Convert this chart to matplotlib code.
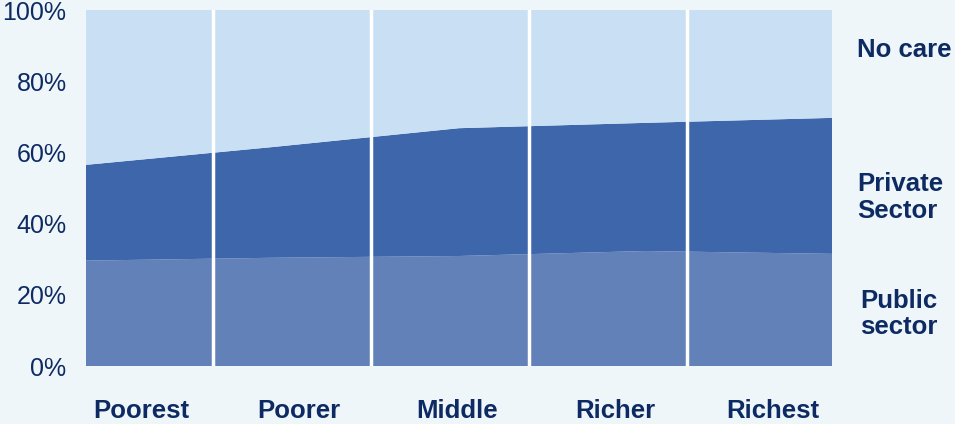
import numpy as np
import matplotlib.pyplot as plt

# -- data (share of children, %)
quintiles = ["Poorest", "Poorer", "Middle", "Richer", "Richest"]
public_sector = [29.6, 30.4, 30.9, 32.3, 31.5]
private_sector = [26.9, 31.1, 35.9, 36.0, 38.2]
no_care = [100 - a - b for a, b in zip(public_sector, private_sector)]
series_names = ["Public\nsector", "Private\nSector", "No care"]
yticks = [0, 20, 40, 60, 80, 100]

bg = "#eff6fa"
txt = "#0d2a63"
colors = ["#6381b9", "#3e67ab", "#c9dff3"]

plt.rcParams['font.family'] = ['Liberation Sans', 'DejaVu Sans']

fig = plt.figure(figsize=(9.55, 4.24), dpi=100, facecolor=bg)
ax = fig.add_axes([86 / 955, 58 / 424, 746 / 955, 356 / 424])
ax.set_facecolor(bg)

n = len(quintiles)
x = np.arange(n)
ax.stackplot(x, public_sector, private_sector, no_care, colors=colors, lw=0)

# white separators between quintile bands
step = (n - 1) / (n - 0.28)
first = -0.169
for i in range(1, n):
    ax.axvline(first + i * step, color="white", lw=2.5)

ax.set_xlim(0, n - 1)
ax.set_ylim(0, 100)
ax.set_yticks(yticks)
ax.set_yticklabels(["%d%%" % v for v in yticks], fontsize=18, color=txt)
ax.tick_params(axis='y', length=0, pad=14)
ax.set_xticks([first + (i + 0.5) * step + 0.04 for i in range(n)])
ax.set_xticklabels(quintiles, fontsize=18.5, fontweight='bold', color=txt)
ax.tick_params(axis='x', length=0, pad=24)
for s in ax.spines.values():
    s.set_visible(False)

# series labels on the right
label_y = [14.6, 47.3, 88.8]
for name, yv, dx in zip(series_names, label_y, [0.015, 0.0, 0.0]):
    ax.text(n - 1 + 0.135 + dx, yv, name, fontsize=18.5, fontweight='bold',
            color=txt, ha='left', va='center', linespacing=1.12)

fig.savefig("out.png", dpi=100, facecolor=bg)
